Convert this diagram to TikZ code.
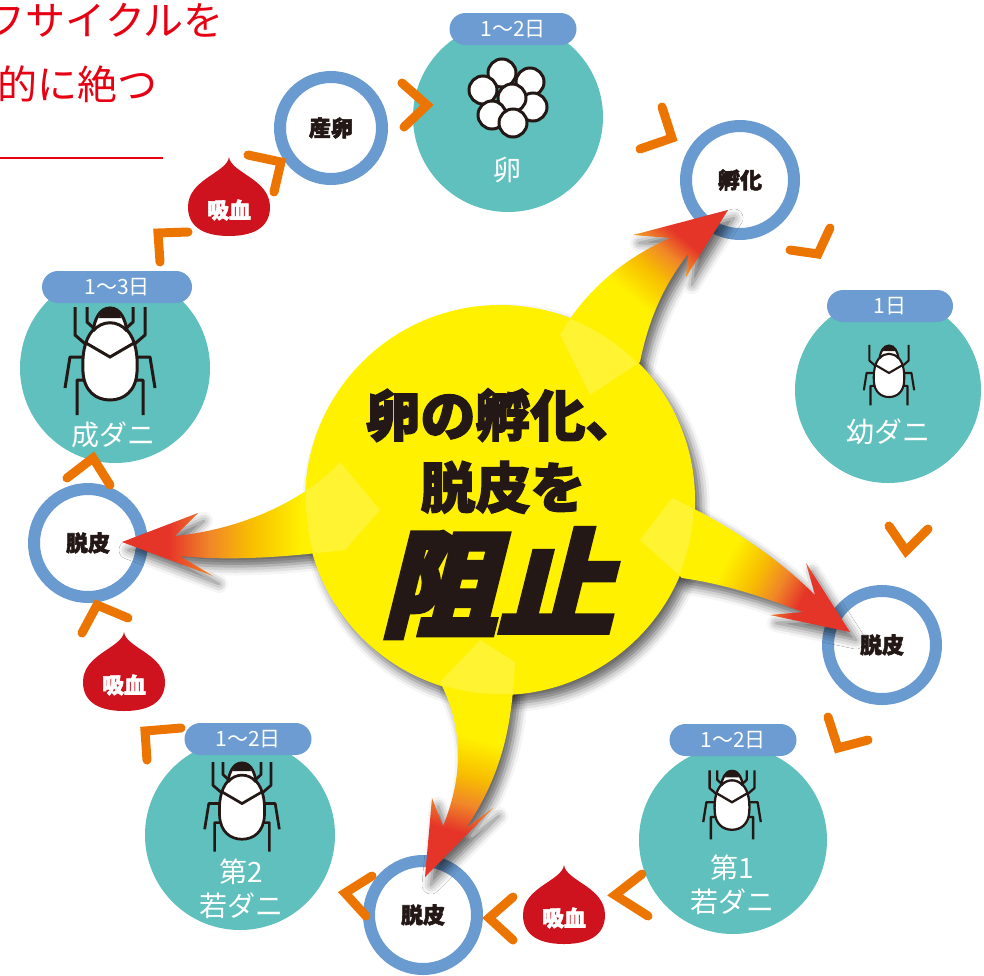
\documentclass[tikz,border=0pt]{standalone}
\usepackage{fontspec}
\usepackage{tikz}
\usetikzlibrary{shadows.blur}
\newfontfamily\jp{Noto Sans CJK JP}
\newfontfamily\jpheavy{Noto Sans CJK JP}[BoldFeatures={FakeBold=2.5}]
\newfontfamily\jpslant{Noto Sans CJK JP}[BoldFeatures={FakeBold=4,FakeSlant=0.25}]
\definecolor{stagegreen}{RGB}{95,192,189}
\definecolor{badgeblue}{RGB}{108,156,209}
\definecolor{ringblue}{RGB}{106,155,208}
\definecolor{chevorange}{RGB}{236,116,0}
\definecolor{bloodred}{RGB}{206,19,30}
\definecolor{coreyellow}{RGB}{255,241,0}
\definecolor{rootyellow}{RGB}{255,243,50}
\definecolor{headred}{RGB}{229,53,41}
\definecolor{midorange}{RGB}{240,135,40}
\definecolor{gold}{RGB}{248,190,0}
\definecolor{titlered}{RGB}{230,0,18}
\definecolor{inkblack}{RGB}{35,24,21}
\pgfdeclarehorizontalshading{arrowfade}{100bp}{color(0bp)=(headred); color(34bp)=(headred); color(42bp)=(midorange); color(50bp)=(gold); color(60bp)=(coreyellow); color(100bp)=(coreyellow)}
\pgfdeclarehorizontalshading{arrowfadetilt}{100bp}{color(0bp)=(headred); color(32bp)=(headred); color(39bp)=(midorange); color(46bp)=(gold); color(55bp)=(coreyellow); color(100bp)=(coreyellow)}
\pgfdeclarehorizontalshading{arrowfadeup}{100bp}{color(0bp)=(headred); color(29bp)=(headred); color(35bp)=(midorange); color(42bp)=(gold); color(51bp)=(coreyellow); color(100bp)=(coreyellow)}
\newcommand{\mitebody}{%
  \filldraw[fill=white, draw=inkblack] (0,-58) .. controls (11,-58) and (15,-46) .. (17,-36) .. controls (26,-26) and (28,-10) .. (27,6) .. controls (26,25) and (14,34) .. (0,34) .. controls (-14,34) and (-26,25) .. (-27,6) .. controls (-28,-10) and (-26,-26) .. (-17,-36) .. controls (-15,-46) and (-11,-58) .. (0,-58) -- cycle;
  \fill[inkblack] (-11,-48) .. controls (-9,-63) and (9,-63) .. (11,-48) -- cycle;
  \draw[inkblack] (-17,-35) .. controls (-8,-46) and (8,-46) .. (17,-35);
  \draw[inkblack] (-24,-23) -- (0,-9) -- (24,-23);}
\newcommand{\miteleg}[1]{\foreach \s in {1,-1}{\draw[mitelegs, xscale=\s] #1;}}
\tikzset{
  pics/larva/.style={code={
    \miteleg{(-35,-59) -- (-35,-31) -- (-20,-18) (-21,-9) -- (-40,-9) -- (-45,22) (-22,14) -- (-33,14) -- (-33,49)}
    \mitebody}},
  pics/mite/.style={code={
    \miteleg{(-23,-59) -- (-23,-44) -- (-12,-34)}
    \miteleg{(-35,-59) -- (-35,-31) -- (-20,-18) (-21,-9) -- (-40,-9) -- (-45,22) (-22,14) -- (-33,14) -- (-33,49)}
    \mitebody}},
  pics/drop/.style={code={
    \fill[bloodred] (0,-52) .. controls (2,-36) and (41,-30) .. (41,-2) .. controls (41,20) and (22,27) .. (0,27) .. controls (-22,27) and (-41,20) .. (-41,-2) .. controls (-41,-30) and (-2,-36) .. (0,-52) -- cycle;}}
}
\newcommand{\tohatch}{(728,210) -- (633,235) -- (670,238) .. controls (625,258) and (585,290) .. (560,335) -- (590,395) -- (640,362) .. controls (650,312) and (668,280) .. (688,254) -- (686,277) -- cycle}
\newcommand{\tomoltA}{(850,632) -- (770,615) -- (803,612) .. controls (765,598) and (730,585) .. (682,578) -- (640,540) -- (672,498) .. controls (730,525) and (780,560) .. (815,595) -- (806,563) -- cycle}
\newcommand{\tomoltB}{(425,877) -- (432,798) -- (443,826) .. controls (462,780) and (465,730) .. (440,682) -- (480,640) -- (515,662) .. controls (512,720) and (505,770) .. (466,828) -- (493,808) -- cycle}
\newcommand{\tomoltC}{(122,542) -- (198,513) -- (175,536) .. controls (235,530) and (300,505) .. (340,462) -- (380,510) -- (345,550) .. controls (300,555) and (240,562) .. (180,556) -- (213,576) -- cycle}
\begin{document}
\begin{tikzpicture}[x=1pt, y=-1pt,
  stage/.style={circle, fill=stagegreen, inner sep=0pt, minimum size=#1},
  badge/.style={rectangle, rounded corners=16pt, fill=badgeblue, minimum height=32pt, minimum width=#1, inner sep=0pt, text=white, font=\jp\fontsize{21}{21}\selectfont},
  stagelabel/.style={text=white, align=center, font=\jp\fontsize{28}{34}\selectfont},
  ring/.style={circle, draw=ringblue, line width=12pt, fill=white, minimum size=#1, inner sep=0pt, text=inkblack, font=\jpheavy\bfseries\fontsize{22}{22}\selectfont},
  feedlabel/.style={text=white, font=\jpheavy\bfseries\fontsize{22}{22}\selectfont},
  headline/.style={text=titlered, inner sep=0pt, anchor=east, font=\jp\fontsize{40}{40}\selectfont},
  chevron/.style={draw=chevorange, line width=9pt, line cap=round, line join=miter},
  eggball/.style={fill=white, draw=inkblack, line width=3pt},
  mitelegs/.style={draw=inkblack, line join=round},
  fallshadow/.style={blur shadow={shadow xshift=6pt, shadow yshift=-8pt, shadow blur radius=9pt, shadow opacity=60}}]
\useasboundingbox (0,0) rectangle (984,975);

\node[headline] (headA) at (224,20) {フサイクルを};
\node[headline] (headB) at (158,84) {的に絶つ};
\draw[titlered, line width=2pt] (0,158) -- (163,158);

% stages
\node[stage=190pt] (egg) at (508,117) {};
\node[stage=186pt] (larva) at (888,390) {};
\node[stage=188pt] (nymphA) at (733,840) {};
\node[stage=190pt] (nymphB) at (240,835) {};
\node[stage=190pt] (adult) at (115,368) {};

\node[badge=127pt] (dayE) at (513,29) {1～2日};
\node[badge=126pt] (dayL) at (890,306) {1日};
\node[badge=127pt] (dayNA) at (733,740) {1～2日};
\node[badge=127pt] (dayNB) at (248,739) {1～2日};
\node[badge=150pt] (dayAd) at (117,287) {1～3日};

\foreach \p in {(502,73),(530,82),(483,90),(533,107),(512,98),(492,115),(513,123)}
  \filldraw[eggball] \p circle[radius=14];
\pic[line width=3pt] (miteAd) at (110,366) {mite};
\pic[scale=0.83, line width=2.7pt] (miteNB) at (242,811) {mite};
\pic[scale=0.64, line width=2.3pt] (miteNA) at (732,808) {mite};
\pic[scale=0.56, line width=2.1pt] (miteL) at (889,378) {larva};

\node[stagelabel] (eggtxt) at (507,170) {卵};
\node[stagelabel] (larvatxt) at (888,432) {幼ダニ};
\node[stagelabel] (nymphAtxt) at (732,885) {第1\\若ダニ};
\node[stagelabel] (nymphBtxt) at (241,889) {第2\\若ダニ};
\node[stagelabel] (adulttxt) at (113,435) {成ダニ};

% rings
\node[ring=102pt] (lay) at (331,128) {産卵};
\node[ring=108pt] (hatch) at (740,180) {孵化};
\node[ring=108pt] (moltA) at (882,645) {脱皮};
\node[ring=108pt] (moltB) at (423,915) {脱皮};
\node[ring=108pt] (moltC) at (88,543) {脱皮};

% blood meals
\pic (dropA) at (229,209) {drop};
\pic (dropB) at (124,684) {drop};
\pic (dropC) at (564,917) {drop};
\node[feedlabel] (feedA) at (229,210) {吸血};
\node[feedlabel] (feedB) at (124,685) {吸血};
\node[feedlabel] (feedC) at (564,918) {吸血};

% chevrons
\draw[chevron] (402,83) -- (427,105) -- (404,127);
\draw[chevron] (662,107) -- (672,138) -- (640,149);
\draw[chevron] (830,228) -- (818,254) -- (790,250);
\draw[chevron] (889,526) -- (906,551) -- (928,529);
\draw[chevron] (828,717) -- (838,748) -- (868,740);
\draw[chevron] (642,874) -- (615,895) -- (648,916);
\draw[chevron] (513,897) -- (489,918) -- (513,940);
\draw[chevron] (372,876) -- (345,893) -- (366,916);
\draw[chevron] (147,760) -- (145,731) -- (181,728);
\draw[chevron] (82,633) -- (97,605) -- (128,618);
\draw[chevron] (67,478) -- (93,458) -- (110,485);
\draw[chevron] (160,262) -- (158,233) -- (188,232);
\draw[chevron] (248,155) -- (281,162) -- (274,192);

% centre and arrows
\path[fallshadow] (500,500) circle[radius=195];
\path[fallshadow] \tohatch;
\path[fallshadow] \tomoltA;
\path[fallshadow] \tomoltB;
\path[fallshadow] \tomoltC;
\shade[shading=arrowfadeup, shading angle=-130] \tohatch;
\shade[shading=arrowfadetilt, shading angle=152] \tomoltA;
\shade[shading=arrowfadetilt, shading angle=75] \tomoltB;
\shade[shading=arrowfade, shading angle=0] \tomoltC;
\node[circle, fill=coreyellow, minimum size=390pt, inner sep=0pt] (core) at (500,500) {};
\begin{scope}
  \clip (500,500) circle[radius=194];
  \fill[rootyellow] \tohatch;
  \fill[rootyellow] \tomoltA;
  \fill[rootyellow] \tomoltB;
  \fill[rootyellow] \tomoltC;
\end{scope}
\node[text=inkblack, align=center, font=\jpheavy\bfseries\fontsize{55}{72}\selectfont] (slogan) at (503,451) {卵の孵化、\\脱皮を};
\node[text=inkblack, font=\jpslant\bfseries\fontsize{116}{116}\selectfont] (stop) at (497,583) {阻止};
\end{tikzpicture}
\end{document}
